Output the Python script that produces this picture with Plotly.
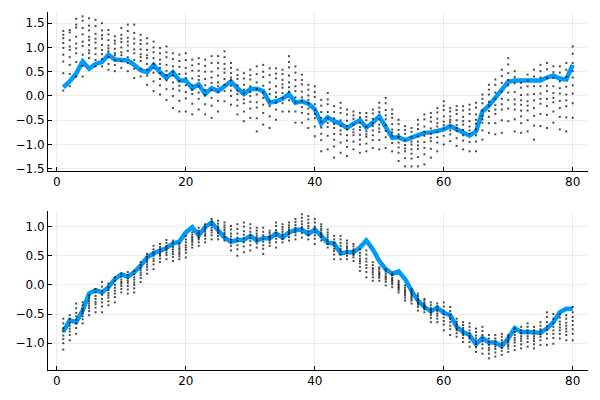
import plotly.graph_objects as go
from plotly.subplots import make_subplots

steps = list(range(1, 81))

top_line = [0.18, 0.30, 0.46, 0.71, 0.56, 0.66, 0.70, 0.85, 0.75, 0.75,
            0.73, 0.64, 0.53, 0.49, 0.64, 0.49, 0.37, 0.49, 0.32, 0.32,
            0.16, 0.24, 0.04, 0.16, 0.10, 0.20, 0.30, 0.16, 0.04, 0.14,
            0.15, 0.10, -0.14, -0.11, -0.06, 0.04, -0.14, -0.11, -0.16, -0.27,
            -0.57, -0.44, -0.52, -0.57, -0.66, -0.57, -0.50, -0.65, -0.55, -0.42,
            -0.63, -0.86, -0.85, -0.91, -0.86, -0.82, -0.76, -0.75, -0.71, -0.69,
            -0.62, -0.69, -0.76, -0.82, -0.73, -0.32, -0.20, -0.04, 0.13, 0.29,
            0.32, 0.32, 0.32, 0.30, 0.32, 0.38, 0.42, 0.36, 0.34, 0.64]

bottom_line = [-0.80, -0.61, -0.64, -0.44, -0.15, -0.09, -0.13, -0.04, 0.10, 0.18,
               0.14, 0.22, 0.33, 0.47, 0.54, 0.59, 0.63, 0.71, 0.74, 0.90,
               0.99, 0.85, 0.99, 1.07, 0.94, 0.81, 0.74, 0.77, 0.77, 0.84,
               0.76, 0.80, 0.80, 0.88, 0.81, 0.90, 0.94, 0.95, 0.87, 0.95,
               0.84, 0.72, 0.71, 0.54, 0.56, 0.56, 0.64, 0.76, 0.61, 0.41,
               0.27, 0.19, 0.23, 0.10, -0.10, -0.27, -0.38, -0.45, -0.39, -0.48,
               -0.52, -0.72, -0.81, -0.86, -1.02, -0.91, -0.99, -0.99, -1.05, -0.92,
               -0.74, -0.81, -0.81, -0.81, -0.82, -0.75, -0.64, -0.47, -0.41, -0.41]

top_cloud = [
    [1.34, 1.26, 1.19, 1.09, 0.99, 0.85, 0.71, 0.47, 0.11],
    [1.36, 1.31, 1.15, 1.02, 0.95, 0.80, 0.64, 0.45, 0.20],
    [1.59, 1.47, 1.41, 1.22, 1.08, 0.98, 0.88, 0.70, 0.40],
    [1.64, 1.55, 1.40, 1.27, 1.12, 1.03, 0.85, 0.62, 0.40],
    [1.60, 1.45, 1.35, 1.22, 1.15, 1.05, 0.94, 0.88, 0.78],
    [1.57, 1.44, 1.28, 1.18, 1.10, 0.98, 0.86, 0.74, 0.61],
    [1.50, 1.35, 1.25, 1.18, 1.05, 0.95, 0.86, 0.76, 0.61],
    [1.36, 1.27, 1.15, 1.04, 0.98, 0.92, 0.80, 0.66, 0.54],
    [1.23, 1.14, 1.08, 0.97, 0.88, 0.84, 0.74, 0.64, 0.51],
    [1.40, 1.26, 1.18, 1.11, 1.00, 0.90, 0.84, 0.72, 0.58],
    [1.47, 1.34, 1.20, 1.12, 1.04, 0.93, 0.80, 0.68, 0.51],
    [1.47, 1.30, 1.18, 1.08, 0.96, 0.88, 0.74, 0.56, 0.37],
    [1.26, 1.15, 1.07, 0.96, 0.86, 0.80, 0.72, 0.56, 0.40],
    [1.19, 1.08, 0.95, 0.84, 0.78, 0.66, 0.54, 0.42, 0.23],
    [1.12, 1.00, 0.90, 0.78, 0.66, 0.58, 0.48, 0.30, 0.10],
    [0.99, 0.88, 0.75, 0.66, 0.58, 0.47, 0.35, 0.22, 0.03],
    [1.02, 0.90, 0.80, 0.64, 0.52, 0.43, 0.32, 0.14, -0.08],
    [0.88, 0.76, 0.61, 0.50, 0.42, 0.28, 0.15, 0.00, -0.25],
    [0.85, 0.72, 0.60, 0.45, 0.31, 0.21, 0.11, -0.10, -0.32],
    [0.88, 0.74, 0.58, 0.46, 0.37, 0.22, 0.08, -0.05, -0.32],
    [0.75, 0.63, 0.52, 0.36, 0.22, 0.13, 0.04, -0.16, -0.38],
    [0.78, 0.66, 0.52, 0.41, 0.33, 0.20, 0.07, -0.06, -0.28],
    [0.75, 0.62, 0.50, 0.35, 0.22, 0.12, 0.02, -0.17, -0.38],
    [0.82, 0.68, 0.50, 0.38, 0.27, 0.12, -0.04, -0.20, -0.45],
    [0.82, 0.68, 0.57, 0.42, 0.28, 0.20, 0.09, -0.10, -0.32],
    [0.92, 0.80, 0.66, 0.56, 0.48, 0.35, 0.23, 0.10, -0.11],
    [0.68, 0.58, 0.47, 0.38, 0.32, 0.21, 0.11, 0.00, -0.18],
    [0.54, 0.43, 0.35, 0.22, 0.11, 0.04, -0.08, -0.20, -0.38],
    [0.47, 0.36, 0.23, 0.13, 0.05, -0.07, -0.15, -0.32, -0.52],
    [0.54, 0.43, 0.34, 0.20, 0.08, 0.00, -0.12, -0.26, -0.45],
    [0.61, 0.45, 0.28, 0.14, 0.03, -0.13, -0.24, -0.46, -0.73],
    [0.64, 0.50, 0.39, 0.21, 0.07, -0.04, -0.18, -0.35, -0.59],
    [0.57, 0.43, 0.28, 0.14, 0.04, -0.11, -0.21, -0.42, -0.66],
    [0.57, 0.46, 0.36, 0.20, 0.07, -0.02, -0.14, -0.28, -0.49],
    [0.54, 0.45, 0.33, 0.24, 0.17, 0.06, -0.04, -0.15, -0.32],
    [0.82, 0.70, 0.59, 0.42, 0.28, 0.18, 0.09, -0.09, -0.32],
    [0.61, 0.48, 0.33, 0.20, 0.10, -0.03, -0.13, -0.32, -0.55],
    [0.44, 0.33, 0.24, 0.09, -0.03, -0.11, -0.23, -0.35, -0.55],
    [0.23, 0.13, 0.01, -0.08, -0.15, -0.26, -0.37, -0.48, -0.66],
    [0.20, 0.08, -0.02, -0.17, -0.29, -0.37, -0.46, -0.63, -0.83],
    [-0.08, -0.20, -0.33, -0.45, -0.53, -0.65, -0.78, -0.91, -1.14],
    [0.06, -0.07, -0.17, -0.33, -0.46, -0.55, -0.64, -0.82, -1.10],
    [-0.21, -0.33, -0.46, -0.58, -0.66, -0.78, -0.90, -1.04, -1.27],
    [-0.14, -0.25, -0.35, -0.50, -0.62, -0.71, -0.79, -0.96, -1.17],
    [-0.28, -0.38, -0.51, -0.62, -0.69, -0.81, -0.92, -1.05, -1.24],
    [-0.32, -0.40, -0.47, -0.59, -0.69, -0.75, -0.81, -0.94, -1.10],
    [-0.35, -0.44, -0.55, -0.64, -0.70, -0.80, -0.90, -1.00, -1.17],
    [-0.35, -0.43, -0.50, -0.63, -0.73, -0.79, -0.84, -0.98, -1.14],
    [-0.28, -0.36, -0.47, -0.56, -0.62, -0.71, -0.81, -0.91, -1.07],
    [-0.14, -0.24, -0.33, -0.48, -0.59, -0.67, -0.74, -0.91, -1.10],
    [-0.04, -0.15, -0.29, -0.40, -0.48, -0.60, -0.72, -0.85, -1.07],
    [-0.28, -0.37, -0.45, -0.58, -0.69, -0.75, -0.82, -0.97, -1.14],
    [-0.49, -0.58, -0.70, -0.79, -0.85, -0.96, -1.06, -1.17, -1.34],
    [-0.62, -0.70, -0.78, -0.91, -1.01, -1.08, -1.14, -1.28, -1.45],
    [-0.66, -0.74, -0.85, -0.94, -1.00, -1.10, -1.19, -1.29, -1.45],
    [-0.49, -0.59, -0.68, -0.83, -0.94, -1.02, -1.09, -1.26, -1.45],
    [-0.38, -0.48, -0.63, -0.74, -0.82, -0.95, -1.07, -1.20, -1.41],
    [-0.35, -0.44, -0.53, -0.67, -0.78, -0.86, -0.93, -1.09, -1.27],
    [-0.25, -0.34, -0.47, -0.56, -0.63, -0.74, -0.85, -0.96, -1.14],
    [-0.11, -0.20, -0.29, -0.42, -0.53, -0.60, -0.67, -0.82, -1.00],
    [-0.25, -0.32, -0.42, -0.49, -0.54, -0.62, -0.71, -0.79, -0.93],
    [-0.21, -0.29, -0.37, -0.50, -0.60, -0.66, -0.72, -0.87, -1.03],
    [-0.21, -0.30, -0.43, -0.52, -0.59, -0.70, -0.81, -0.92, -1.10],
    [-0.18, -0.28, -0.37, -0.52, -0.63, -0.71, -0.78, -0.95, -1.14],
    [-0.14, -0.24, -0.38, -0.49, -0.57, -0.69, -0.81, -0.94, -1.14],
    [0.03, -0.06, -0.15, -0.30, -0.41, -0.48, -0.55, -0.71, -0.90],
    [0.23, 0.13, 0.03, -0.12, -0.20, -0.31, -0.43, -0.56, -0.76],
    [0.34, 0.23, 0.07, -0.06, -0.19, -0.28, -0.37, -0.56, -0.79],
    [0.54, 0.41, 0.27, 0.09, -0.06, -0.17, -0.28, -0.50, -0.76],
    [0.78, 0.65, 0.47, 0.33, 0.22, 0.07, -0.08, -0.26, -0.52],
    [0.51, 0.39, 0.26, 0.08, -0.07, -0.17, -0.28, -0.48, -0.73],
    [0.27, 0.17, 0.02, -0.09, -0.18, -0.30, -0.42, -0.56, -0.76],
    [0.44, 0.32, 0.20, 0.03, -0.11, -0.20, -0.30, -0.50, -0.73],
    [0.54, 0.40, 0.20, 0.04, -0.09, -0.25, -0.41, -0.61, -0.90],
    [0.64, 0.51, 0.38, 0.20, 0.05, -0.06, -0.16, -0.37, -0.62],
    [0.68, 0.55, 0.37, 0.21, 0.10, -0.06, -0.21, -0.39, -0.66],
    [0.61, 0.49, 0.37, 0.20, 0.06, -0.04, -0.13, -0.32, -0.55],
    [0.61, 0.48, 0.30, 0.16, 0.05, -0.10, -0.25, -0.43, -0.69],
    [0.68, 0.54, 0.39, 0.19, 0.03, -0.09, -0.21, -0.44, -0.73],
    [1.02, 0.87, 0.68, 0.51, 0.38, 0.22, 0.05, -0.15, -0.45],
]

bottom_cloud = [
    [-0.58, -0.66, -0.74, -0.80, -0.87, -0.93, -1.00, -1.11],
    [-0.52, -0.58, -0.65, -0.70, -0.75, -0.80, -0.86, -0.95],
    [-0.32, -0.40, -0.48, -0.54, -0.60, -0.66, -0.74, -0.84],
    [-0.30, -0.35, -0.41, -0.45, -0.49, -0.54, -0.59, -0.66],
    [-0.18, -0.23, -0.28, -0.32, -0.36, -0.40, -0.45, -0.52],
    [-0.07, -0.13, -0.19, -0.24, -0.29, -0.33, -0.39, -0.47],
    [0.05, -0.03, -0.11, -0.17, -0.24, -0.30, -0.37, -0.47],
    [0.02, -0.04, -0.09, -0.14, -0.18, -0.22, -0.28, -0.35],
    [0.13, 0.07, 0.00, -0.05, -0.10, -0.15, -0.21, -0.30],
    [0.19, 0.14, 0.09, 0.05, 0.02, -0.02, -0.07, -0.13],
    [0.22, 0.17, 0.11, 0.07, 0.03, -0.02, -0.08, -0.15],
    [0.24, 0.18, 0.13, 0.09, 0.04, 0.00, -0.06, -0.13],
    [0.39, 0.34, 0.29, 0.25, 0.21, 0.17, 0.12, 0.05],
    [0.53, 0.48, 0.43, 0.39, 0.35, 0.31, 0.26, 0.19],
    [0.67, 0.61, 0.55, 0.50, 0.45, 0.41, 0.35, 0.27],
    [0.70, 0.65, 0.61, 0.57, 0.53, 0.50, 0.45, 0.39],
    [0.77, 0.72, 0.67, 0.63, 0.59, 0.55, 0.51, 0.44],
    [0.76, 0.71, 0.65, 0.61, 0.57, 0.53, 0.48, 0.41],
    [0.71, 0.67, 0.63, 0.60, 0.56, 0.53, 0.49, 0.44],
    [0.84, 0.78, 0.73, 0.68, 0.64, 0.60, 0.55, 0.47],
    [0.90, 0.86, 0.82, 0.79, 0.76, 0.73, 0.69, 0.64],
    [0.98, 0.93, 0.89, 0.85, 0.81, 0.78, 0.73, 0.67],
    [1.04, 0.99, 0.95, 0.91, 0.87, 0.84, 0.79, 0.73],
    [1.13, 1.08, 1.03, 0.98, 0.94, 0.90, 0.85, 0.78],
    [1.10, 1.05, 1.00, 0.97, 0.93, 0.89, 0.84, 0.78],
    [1.07, 1.02, 0.98, 0.94, 0.90, 0.87, 0.82, 0.76],
    [1.01, 0.95, 0.88, 0.83, 0.78, 0.73, 0.67, 0.59],
    [1.04, 0.96, 0.88, 0.81, 0.75, 0.68, 0.61, 0.50],
    [1.07, 1.00, 0.92, 0.86, 0.80, 0.73, 0.66, 0.56],
    [1.04, 0.97, 0.91, 0.85, 0.80, 0.75, 0.68, 0.59],
    [0.98, 0.93, 0.88, 0.84, 0.80, 0.76, 0.71, 0.64],
    [0.98, 0.91, 0.85, 0.79, 0.74, 0.68, 0.62, 0.53],
    [0.93, 0.89, 0.85, 0.82, 0.79, 0.76, 0.72, 0.67],
    [1.07, 1.01, 0.94, 0.89, 0.84, 0.79, 0.73, 0.64],
    [1.04, 0.99, 0.95, 0.91, 0.87, 0.84, 0.79, 0.73],
    [1.07, 1.02, 0.98, 0.94, 0.90, 0.87, 0.82, 0.76],
    [1.13, 1.08, 1.03, 0.98, 0.94, 0.90, 0.85, 0.78],
    [1.21, 1.15, 1.09, 1.04, 0.99, 0.95, 0.89, 0.81],
    [1.18, 1.12, 1.06, 1.01, 0.97, 0.92, 0.86, 0.78],
    [1.13, 1.07, 1.00, 0.95, 0.90, 0.85, 0.79, 0.70],
    [1.04, 1.00, 0.96, 0.93, 0.89, 0.86, 0.82, 0.76],
    [0.95, 0.90, 0.86, 0.82, 0.78, 0.75, 0.70, 0.64],
    [0.84, 0.78, 0.72, 0.67, 0.62, 0.58, 0.52, 0.44],
    [0.84, 0.78, 0.72, 0.67, 0.62, 0.58, 0.52, 0.44],
    [0.76, 0.71, 0.66, 0.63, 0.59, 0.55, 0.50, 0.44],
    [0.70, 0.66, 0.61, 0.58, 0.54, 0.51, 0.47, 0.41],
    [0.61, 0.55, 0.50, 0.45, 0.41, 0.37, 0.31, 0.24],
    [0.59, 0.52, 0.45, 0.40, 0.34, 0.29, 0.22, 0.13],
    [0.39, 0.34, 0.29, 0.26, 0.22, 0.18, 0.13, 0.07],
    [0.30, 0.27, 0.23, 0.20, 0.18, 0.15, 0.12, 0.07],
    [0.27, 0.23, 0.19, 0.15, 0.12, 0.09, 0.05, -0.01],
    [0.19, 0.16, 0.12, 0.09, 0.07, 0.04, 0.01, -0.04],
    [0.07, 0.04, 0.01, -0.01, -0.04, -0.06, -0.09, -0.13],
    [-0.01, -0.05, -0.09, -0.12, -0.15, -0.18, -0.22, -0.27],
    [-0.07, -0.11, -0.15, -0.18, -0.21, -0.24, -0.27, -0.32],
    [-0.15, -0.19, -0.24, -0.27, -0.31, -0.34, -0.38, -0.44],
    [-0.24, -0.27, -0.31, -0.34, -0.36, -0.39, -0.42, -0.47],
    [-0.30, -0.35, -0.40, -0.44, -0.48, -0.52, -0.57, -0.64],
    [-0.32, -0.37, -0.42, -0.45, -0.49, -0.53, -0.58, -0.64],
    [-0.30, -0.37, -0.44, -0.50, -0.56, -0.62, -0.68, -0.78],
    [-0.38, -0.45, -0.52, -0.58, -0.64, -0.70, -0.76, -0.86],
    [-0.58, -0.63, -0.67, -0.71, -0.75, -0.78, -0.83, -0.89],
    [-0.64, -0.69, -0.74, -0.78, -0.82, -0.86, -0.91, -0.98],
    [-0.66, -0.72, -0.78, -0.83, -0.88, -0.92, -0.98, -1.06],
    [-0.75, -0.81, -0.87, -0.92, -0.97, -1.01, -1.07, -1.15],
    [-0.72, -0.79, -0.86, -0.91, -0.97, -1.02, -1.09, -1.18],
    [-0.86, -0.92, -0.98, -1.03, -1.08, -1.12, -1.18, -1.26],
    [-0.86, -0.92, -0.97, -1.02, -1.06, -1.10, -1.16, -1.23],
    [-0.84, -0.89, -0.95, -0.99, -1.03, -1.08, -1.13, -1.20],
    [-0.86, -0.90, -0.95, -0.98, -1.02, -1.05, -1.09, -1.15],
    [-0.75, -0.81, -0.86, -0.91, -0.95, -0.99, -1.05, -1.12],
    [-0.72, -0.78, -0.83, -0.88, -0.92, -0.96, -1.02, -1.09],
    [-0.66, -0.72, -0.78, -0.83, -0.88, -0.92, -0.98, -1.06],
    [-0.72, -0.78, -0.83, -0.88, -0.92, -0.96, -1.02, -1.09],
    [-0.64, -0.70, -0.76, -0.80, -0.85, -0.89, -0.95, -1.03],
    [-0.47, -0.55, -0.64, -0.71, -0.77, -0.84, -0.92, -1.03],
    [-0.50, -0.58, -0.66, -0.72, -0.78, -0.84, -0.91, -1.01],
    [-0.50, -0.56, -0.63, -0.68, -0.73, -0.78, -0.84, -0.92],
    [-0.52, -0.58, -0.65, -0.70, -0.75, -0.80, -0.86, -0.95],
    [-0.38, -0.47, -0.55, -0.62, -0.69, -0.76, -0.84, -0.95],
]

x_ticks = [0, 20, 40, 60, 80]
top_y_ticks = [-1.5, -1.0, -0.5, 0.0, 0.5, 1.0, 1.5]
bottom_y_ticks = [-1.0, -0.5, 0.0, 0.5, 1.0]

LINE_COLOR = "#009AFA"
FONT = "DejaVu Sans"

fig = make_subplots(rows=2, cols=1, vertical_spacing=0.112)


def flatten(cloud):
    xs, ys = [], []
    for s, col in zip(steps, cloud):
        for v in col:
            xs.append(s)
            ys.append(v)
    return xs, ys


for row, line, cloud in [(1, top_line, top_cloud), (2, bottom_line, bottom_cloud)]:
    fig.add_trace(go.Scatter(x=steps, y=line, mode="lines",
                             line=dict(color=LINE_COLOR, width=4.5),
                             showlegend=False), row=row, col=1)
    cx, cy = flatten(cloud)
    fig.add_trace(go.Scatter(x=cx, y=cy, mode="markers",
                             marker=dict(color="rgba(0,0,0,0.7)", size=2, symbol="square",
                                         line=dict(width=0)),
                             showlegend=False), row=row, col=1)

axis_common = dict(showline=True, linecolor="black", linewidth=1, mirror=False,
                   showgrid=True, gridcolor="rgba(0,0,0,0.07)", gridwidth=1,
                   zeroline=False, ticks="inside", ticklen=4, tickcolor="black",
                   tickfont=dict(family=FONT, size=12, color="black"))

fig.update_xaxes(range=[-1.37, 82.37], tickvals=x_ticks, **axis_common)
fig.update_yaxes(range=[-1.545, 1.73], tickvals=top_y_ticks,
                 ticktext=[f"{v:.1f}".replace("-", "\u2212") for v in top_y_ticks],
                 row=1, col=1, **axis_common)
fig.update_yaxes(range=[-1.46, 1.266], tickvals=bottom_y_ticks,
                 ticktext=[f"{v:.1f}".replace("-", "\u2212") for v in bottom_y_ticks],
                 row=2, col=1, **axis_common)

fig.update_layout(
    width=600, height=400,
    margin=dict(l=48, r=12, t=12, b=28),
    paper_bgcolor="white", plot_bgcolor="white",
    yaxis=dict(domain=[0.556, 1.0]),
    yaxis2=dict(domain=[0.0, 0.444]),
)

fig.write_html("out.html")
